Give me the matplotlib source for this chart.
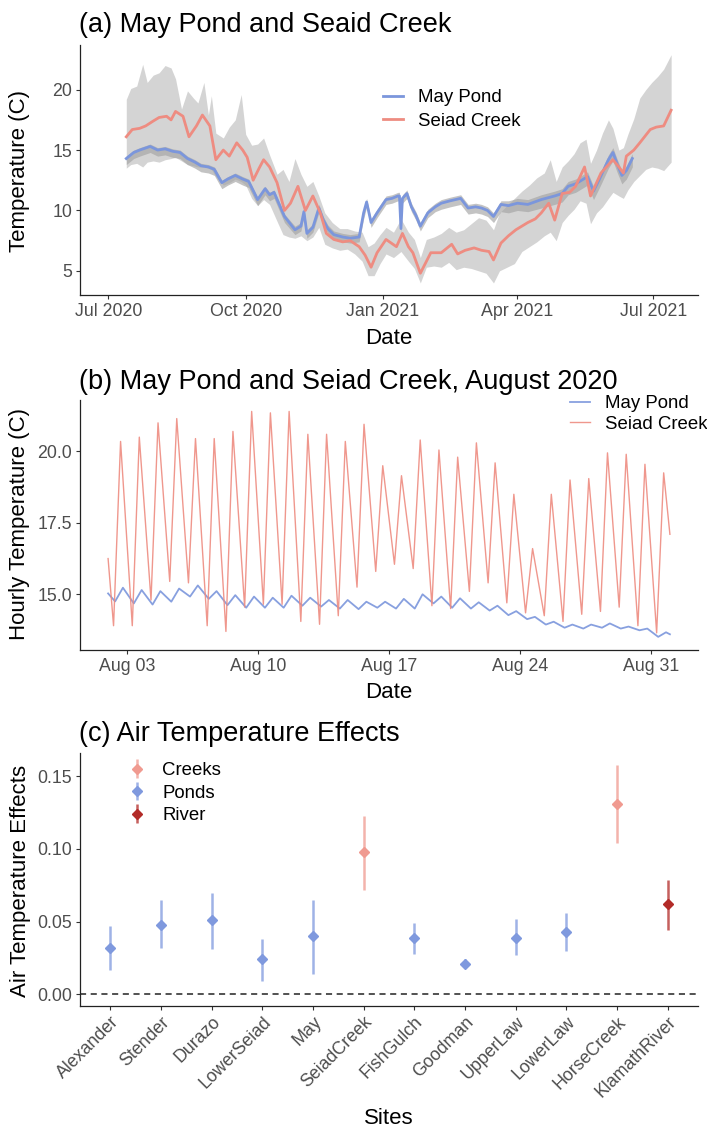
import matplotlib
matplotlib.use("Agg")
import matplotlib.pyplot as plt
import matplotlib.dates as mdates
import matplotlib.colors as mcolors
import numpy as np
import pandas as pd

plt.rcParams['font.family'] = ['Liberation Sans', 'DejaVu Sans']

# ---------------- (a) daily temperatures, Jul 2020 - Jul 2021 ----------------
may_dates = ["2020-07-13", "2020-07-18", "2020-07-22", "2020-07-29",
             "2020-08-03", "2020-08-08", "2020-08-13", "2020-08-18", "2020-08-23", "2020-08-28",
             "2020-09-01", "2020-09-06", "2020-09-10", "2020-09-15", "2020-09-19", "2020-09-24", "2020-09-29",
             "2020-10-03", "2020-10-09", "2020-10-14", "2020-10-17", "2020-10-20", "2020-10-27",
             "2020-11-03", "2020-11-07", "2020-11-09", "2020-11-11", "2020-11-15", "2020-11-19",
             "2020-11-22", "2020-11-25", "2020-11-29",
             "2020-12-05", "2020-12-10", "2020-12-16", "2020-12-19", "2020-12-21", "2020-12-24", "2020-12-28",
             "2021-01-03", "2021-01-07", "2021-01-11", "2021-01-12", "2021-01-13", "2021-01-14",
             "2021-01-17", "2021-01-20", "2021-01-23", "2021-01-26", "2021-01-31",
             "2021-02-05", "2021-02-09", "2021-02-15", "2021-02-22", "2021-02-27",
             "2021-03-04", "2021-03-08", "2021-03-12", "2021-03-16", "2021-03-21", "2021-03-26",
             "2021-04-01", "2021-04-08", "2021-04-17", "2021-04-26",
             "2021-05-01", "2021-05-05", "2021-05-10", "2021-05-14", "2021-05-18", "2021-05-22",
             "2021-05-26", "2021-05-29",
             "2021-06-01", "2021-06-04", "2021-06-07", "2021-06-10", "2021-06-13", "2021-06-17"]
may_mean = [14.3, 14.8, 15.0, 15.3,
            15.0, 15.1, 14.9, 14.8, 14.3, 14.0,
            13.7, 13.6, 13.4, 12.3, 12.6, 12.9, 12.6,
            12.4, 10.9, 11.8, 11.3, 11.5, 9.5,
            8.4, 8.7, 9.9, 8.1, 8.6, 10.2, 9.2, 8.5, 8.0,
            7.8, 7.7, 7.8, 9.8, 10.7, 9.0, 9.8,
            10.9, 11.0, 11.2, 11.2, 8.5, 11.0, 11.4, 10.3, 9.6, 8.7, 9.8,
            10.3, 10.6, 10.8, 11.0, 10.2,
            10.3, 10.2, 10.0, 9.5, 10.5, 10.4,
            10.6, 10.5, 10.9, 11.2,
            11.4, 12.0, 12.2, 12.5, 12.8, 11.6, 12.6, 13.4,
            14.2, 14.8, 13.8, 12.9, 13.3, 14.3]
may_lo = [13.8, 14.3, 14.5, 14.8,
          14.5, 14.6, 14.4, 14.3, 13.8, 13.5,
          13.2, 13.1, 12.9, 11.8, 12.1, 12.4, 12.1,
          11.9, 10.4, 11.3, 10.8, 11.0, 9.0,
          8.0, 8.3, 9.5, 7.7, 8.2, 9.8, 8.8, 8.1, 7.6,
          7.4, 7.3, 7.4, 9.3, 10.3, 8.6, 9.4,
          10.5, 10.6, 10.8, 10.8, 8.1, 10.6, 11.0, 9.9, 9.2, 8.3, 9.4,
          9.9, 10.1, 10.3, 10.5, 9.7,
          9.8, 9.7, 9.5, 9.0, 9.9, 9.8,
          10.0, 9.9, 10.2, 10.5,
          10.7, 11.3, 11.5, 11.8, 12.1, 10.9, 11.9, 12.7,
          13.5, 14.1, 13.1, 12.2, 12.6, 13.6]
may_hi = [14.5, 15.0, 15.2, 15.5,
          15.2, 15.3, 15.1, 15.0, 14.5, 14.2,
          13.9, 13.8, 13.6, 12.5, 12.8, 13.1, 12.8,
          12.6, 11.1, 12.0, 11.5, 11.7, 9.7,
          8.7, 9.0, 10.2, 8.4, 8.9, 10.5, 9.5, 8.8, 8.3,
          8.1, 8.0, 8.1, 10.1, 11.0, 9.3, 10.1,
          11.2, 11.3, 11.5, 11.5, 8.8, 11.3, 11.7, 10.6, 9.9, 9.0, 10.1,
          10.6, 10.9, 11.1, 11.3, 10.5,
          10.6, 10.5, 10.3, 9.8, 10.8, 10.8,
          11.0, 10.9, 11.3, 11.6,
          11.8, 12.4, 12.6, 12.9, 13.2, 12.0, 13.0, 13.8,
          14.6, 15.2, 14.2, 13.3, 13.7, 14.7]

seiad_dates = ["2020-07-13", "2020-07-17", "2020-07-22", "2020-07-26", "2020-07-31",
               "2020-08-04", "2020-08-09", "2020-08-12", "2020-08-15", "2020-08-20", "2020-08-24", "2020-08-29",
               "2020-09-02", "2020-09-07", "2020-09-11", "2020-09-16", "2020-09-20", "2020-09-25", "2020-09-29",
               "2020-10-02", "2020-10-06", "2020-10-10", "2020-10-13", "2020-10-17", "2020-10-22",
               "2020-10-27", "2020-10-31",
               "2020-11-05", "2020-11-10", "2020-11-15", "2020-11-20", "2020-11-24", "2020-11-29",
               "2020-12-05", "2020-12-10", "2020-12-16", "2020-12-20", "2020-12-24", "2020-12-28",
               "2021-01-03", "2021-01-10", "2021-01-14", "2021-01-18", "2021-01-21", "2021-01-26",
               "2021-02-02", "2021-02-09", "2021-02-16", "2021-02-20", "2021-02-25",
               "2021-03-03", "2021-03-08", "2021-03-13", "2021-03-16", "2021-03-21", "2021-03-26", "2021-03-31",
               "2021-04-08", "2021-04-13", "2021-04-17", "2021-04-22", "2021-04-26",
               "2021-05-01", "2021-05-06", "2021-05-10", "2021-05-16", "2021-05-20", "2021-05-27",
               "2021-06-04", "2021-06-08", "2021-06-11", "2021-06-13", "2021-06-18", "2021-06-22", "2021-06-29",
               "2021-07-03", "2021-07-08", "2021-07-13"]
seiad_mean = [16.1, 16.7, 16.8, 17.0, 17.4,
              17.7, 17.8, 17.5, 18.2, 17.8, 16.1, 17.0,
              17.9, 17.0, 14.2, 15.0, 14.5, 15.6, 15.0,
              14.4, 12.5, 13.5, 14.2, 13.6, 12.3, 10.0, 10.6,
              12.0, 10.0, 11.2, 9.8, 8.1, 7.6,
              7.4, 7.5, 7.0, 6.3, 5.3, 6.5,
              7.6, 7.0, 8.1, 7.0, 6.5, 4.8,
              6.5, 6.5, 7.2, 6.4, 6.7,
              6.9, 6.7, 6.6, 5.9, 7.3, 7.9, 8.4,
              9.0, 9.3, 9.8, 10.6, 9.2,
              11.4, 11.5, 12.0, 13.6, 11.2, 13.1,
              14.2, 13.6, 13.1, 14.5, 15.0, 15.6, 16.7,
              16.9, 17.0, 18.3]

# daily range of Seiad Creek (grey band)
rib_dates = ["2020-07-13", "2020-07-16", "2020-07-20", "2020-07-24", "2020-07-27", "2020-07-31",
             "2020-08-04", "2020-08-08", "2020-08-12", "2020-08-15", "2020-08-19", "2020-08-23",
             "2020-08-27", "2020-08-30",
             "2020-09-03", "2020-09-06", "2020-09-08", "2020-09-11", "2020-09-16", "2020-09-20",
             "2020-09-24", "2020-09-28",
             "2020-10-01", "2020-10-05", "2020-10-09", "2020-10-13", "2020-10-17", "2020-10-22",
             "2020-10-26", "2020-10-30",
             "2020-11-03", "2020-11-07", "2020-11-11", "2020-11-15", "2020-11-19", "2020-11-23", "2020-11-28",
             "2020-12-03", "2020-12-08", "2020-12-13", "2020-12-18", "2020-12-22", "2020-12-26", "2020-12-30",
             "2021-01-03", "2021-01-08", "2021-01-13", "2021-01-18", "2021-01-22", "2021-01-26", "2021-01-30",
             "2021-02-04", "2021-02-09", "2021-02-14", "2021-02-19", "2021-02-24",
             "2021-03-01", "2021-03-06", "2021-03-11", "2021-03-16", "2021-03-20", "2021-03-25", "2021-03-30",
             "2021-04-04", "2021-04-09", "2021-04-14", "2021-04-19", "2021-04-23", "2021-04-27",
             "2021-05-01", "2021-05-05", "2021-05-09", "2021-05-13", "2021-05-17", "2021-05-20",
             "2021-05-24", "2021-05-28",
             "2021-06-01", "2021-06-04", "2021-06-08", "2021-06-11", "2021-06-14", "2021-06-18",
             "2021-06-22", "2021-06-26", "2021-06-30",
             "2021-07-04", "2021-07-08", "2021-07-13"]
rib_lo = [13.5, 13.8, 13.9, 13.6, 14.0, 14.1,
          14.0, 14.2, 14.3, 14.4, 14.1, 13.8, 13.7, 13.6,
          13.6, 13.5, 13.4, 12.8, 12.1, 12.3, 12.6, 12.4,
          12.1, 11.0, 10.4, 10.9, 10.5, 9.1, 8.0, 7.8,
          7.7, 7.9, 7.5, 7.8, 8.6, 7.2, 6.9,
          6.7, 6.8, 6.4, 5.8, 4.6, 4.6, 5.6,
          6.4, 6.1, 6.6, 5.8, 5.2, 4.0, 5.3,
          5.4, 5.3, 5.7, 5.1, 5.3,
          5.2, 5.0, 4.8, 4.0, 5.0, 5.3, 5.6,
          6.6, 7.0, 7.4, 7.9, 8.2, 7.5,
          9.0, 9.6, 10.1, 10.8, 10.6, 8.9, 9.8, 10.3,
          11.0, 11.5, 11.2, 11.0, 11.7, 12.4, 12.9, 13.4, 13.6,
          13.5, 13.3, 14.0]
rib_hi = [19.2, 20.1, 20.3, 22.1, 20.6, 21.2,
          21.4, 22.0, 21.8, 20.9, 18.4, 19.9, 19.3, 18.9,
          20.6, 17.9, 19.5, 16.4, 16.0, 16.9, 17.5, 19.6,
          16.3, 15.4, 15.5, 16.0, 14.6, 13.0, 13.4, 12.4,
          14.3, 13.0, 12.0, 12.4, 11.2, 9.8, 9.0,
          8.5, 8.5, 8.3, 8.2, 7.0, 7.3, 8.0,
          8.6, 8.2, 9.3, 8.2, 7.6, 6.1, 7.6,
          7.8, 8.1, 8.6, 8.2, 8.4,
          8.9, 9.4, 9.2, 8.4, 9.8, 10.4, 11.0,
          11.6, 12.1, 12.7, 13.1, 14.2, 12.4,
          13.6, 14.1, 14.7, 15.6, 15.9, 13.9, 15.0, 16.4,
          17.5, 16.8, 15.0, 15.2, 16.3, 17.6, 19.3, 20.0, 20.6,
          21.1, 21.7, 22.9]

# ---------------- (b) hourly temperatures, August 2020 ----------------
aug_days = pd.date_range("2020-08-02", "2020-08-31", freq="D")
seiad_trough = [13.9, 13.9, 14.8, 15.45, 15.4, 13.9, 13.7, 14.55, 14.65, 14.65,
                14.05, 13.95, 14.25, 15.25, 15.8, 16.05, 15.9, 14.6, 14.5, 15.1,
                15.4, 14.7, 14.35, 14.25, 14.05, 14.3, 14.4, 14.55, 13.9, 13.65]
seiad_peak = [20.35, 20.5, 21.0, 21.15, 20.45, 20.45, 20.7, 21.4, 21.35, 21.4,
              20.6, 20.6, 20.35, 20.95, 19.5, 19.15, 20.4, 20.05, 19.8, 20.3,
              19.6, 18.5, 16.6, 18.5, 19.0, 19.05, 19.95, 19.9, 19.55, 19.25]
may_trough = [14.75, 14.68, 14.64, 14.74, 14.92, 14.84, 14.62, 14.53, 14.53, 14.53,
              14.6, 14.57, 14.5, 14.48, 14.53, 14.5, 14.5, 14.68, 14.53, 14.5,
              14.43, 14.27, 14.13, 13.94, 13.83, 13.8, 13.83, 13.8, 13.74, 13.51]
may_peak = [15.23, 15.15, 15.11, 15.2, 15.31, 15.11, 14.97, 14.92, 14.88, 14.95,
            14.88, 14.8, 14.8, 14.74, 14.74, 14.84, 15.0, 14.92, 14.86, 14.72,
            14.6, 14.41, 14.21, 14.04, 13.94, 13.94, 13.98, 13.87, 13.8, 13.67]
seiad_first, seiad_last = 16.25, 17.1
may_first, may_last = 15.03, 13.6
SEIAD_HOURS = (7, 16)   # usual hour of daily min / max in the creek
MAY_HOURS = (9, 19)     # the pond lags behind

# ---------------- (c) air temperature effects ----------------
sites = ["Alexander", "Stender", "Durazo", "LowerSeiad", "May", "SeiadCreek",
         "FishGulch", "Goodman", "UpperLaw", "LowerLaw", "HorseCreek", "KlamathRiver"]
site_type = ["Ponds", "Ponds", "Ponds", "Ponds", "Ponds", "Creeks",
             "Ponds", "Ponds", "Ponds", "Ponds", "Creeks", "River"]
effect = [0.032, 0.048, 0.051, 0.024, 0.040, 0.098, 0.039, 0.021, 0.039, 0.043, 0.131, 0.062]
eff_lo = [0.017, 0.032, 0.031, 0.009, 0.014, 0.072, 0.028, 0.018, 0.027, 0.030, 0.104, 0.044]
eff_hi = [0.047, 0.065, 0.070, 0.038, 0.065, 0.123, 0.049, 0.024, 0.052, 0.056, 0.158, 0.079]

MAY_COL = "#7b96dc"
SEIAD_COL = "#ee8c81"
TYPE_COL = {"Creeks": "#f09a90", "Ponds": "#7f99de", "River": "#b22b28"}

W, H = 707, 1131
fig = plt.figure(figsize=(W / 100, H / 100), dpi=100)


def box(l, t, r, b):
    return [l / W, 1 - b / H, (r - l) / W, (b - t) / H]


def classic(ax):
    for s in ["top", "right"]:
        ax.spines[s].set_visible(False)
    for s in ["left", "bottom"]:
        ax.spines[s].set_color("#222222")
        ax.spines[s].set_linewidth(0.9)
    ax.tick_params(colors="#333333", labelcolor="#4d4d4d", labelsize=12.8,
                   length=3, width=0.8, pad=2.5)


def ftext(x, y, s, **kw):
    fig.text(x / W, 1 - y / H, s, **kw)


def hourly(days, lo, hi, hours, first, last):
    t = [days[0]]
    v = [first]
    for d, a, b in zip(days, lo, hi):
        t += [d + pd.Timedelta(hours=hours[0]), d + pd.Timedelta(hours=hours[1])]
        v += [a, b]
    t.append(days[-1] + pd.Timedelta(days=1))
    v.append(last)
    return t, v


# (a)
ax1 = fig.add_axes(box(80, 45, 698, 295))
classic(ax1)
ax1.fill_between(pd.to_datetime(rib_dates), rib_lo, rib_hi, color="#d4d4d4", lw=0)
ax1.fill_between(pd.to_datetime(may_dates), may_lo, may_hi, color="#a3a3a3", alpha=0.65, lw=0)
ax1.plot(pd.to_datetime(may_dates), may_mean, color=MAY_COL, lw=2.0, label="May Pond")
ax1.plot(pd.to_datetime(seiad_dates), seiad_mean, color=SEIAD_COL, lw=2.0, label="Seiad Creek")
ax1.set_xlim(pd.Timestamp("2020-06-12"), pd.Timestamp("2021-07-31"))
ax1.set_ylim(3.0, 23.7)
ax1.set_yticks([5, 10, 15, 20])
ax1.set_xticks(pd.to_datetime(["2020-07-01", "2020-10-01", "2021-01-01", "2021-04-01", "2021-07-01"]))
ax1.xaxis.set_major_formatter(mdates.DateFormatter("%b %Y"))
ax1.legend(loc="upper left", bbox_to_anchor=(383 / W, 1 - 89 / H), bbox_transform=fig.transFigure,
           frameon=False, fontsize=13.4, handlelength=1.1, handletextpad=0.8,
           labelspacing=0.35, borderpad=0, borderaxespad=0)
ftext(79, 32, "(a) May Pond and Seaid Creek", fontsize=19.5, va="baseline")
ftext(20, 171, "Temperature (C)", fontsize=16, rotation=90, ha="center", va="center")
ftext(389, 338, "Date", fontsize=16, ha="center", va="center")

# (b)
ax2 = fig.add_axes(box(80, 400, 698, 650))
classic(ax2)
t_may, v_may = hourly(aug_days, may_trough, may_peak, MAY_HOURS, may_first, may_last)
t_sei, v_sei = hourly(aug_days, seiad_trough, seiad_peak, SEIAD_HOURS, seiad_first, seiad_last)
ax2.plot(t_may, v_may, color=MAY_COL, lw=1.3, alpha=0.9, label="May Pond")
ax2.plot(t_sei, v_sei, color=SEIAD_COL, lw=1.0, alpha=0.9, label="Seiad Creek")
ax2.set_xlim(pd.Timestamp("2020-07-31 12:00"), pd.Timestamp("2020-09-02 12:00"))
ax2.set_ylim(13.05, 21.8)
ax2.set_yticks([15.0, 17.5, 20.0])
ax2.yaxis.set_major_formatter(plt.FormatStrFormatter("%.1f"))
ax2.set_xticks(pd.to_datetime(["2020-08-03", "2020-08-10", "2020-08-17", "2020-08-24", "2020-08-31"]))
ax2.xaxis.set_major_formatter(mdates.DateFormatter("%b %d"))
ax2.legend(loc="upper left", bbox_to_anchor=(570 / W, 1 - 395 / H), bbox_transform=fig.transFigure,
           frameon=False, fontsize=13.4, handlelength=1.1, handletextpad=0.8,
           labelspacing=0.2, borderpad=0, borderaxespad=0)
ftext(79, 389, "(b) May Pond and Seiad Creek, August 2020", fontsize=19.5, va="baseline")
ftext(20, 524, "Hourly Temperature (C)", fontsize=16, rotation=90, ha="center", va="center")
ftext(389, 692, "Date", fontsize=16, ha="center", va="center")

# (c)
ax3 = fig.add_axes(box(80, 753, 698, 1006))
classic(ax3)
ax3.axhline(0, color="#222222", lw=1.1, ls=(0, (4, 3)), zorder=1)
xpos = np.arange(len(sites))
eff = np.array(effect)
lo = np.array(eff_lo)
hi = np.array(eff_hi)
for grp in ["Creeks", "Ponds", "River"]:
    idx = np.array([t == grp for t in site_type])
    col = TYPE_COL[grp]
    ax3.errorbar(xpos[idx], eff[idx], yerr=[eff[idx] - lo[idx], hi[idx] - eff[idx]],
                 fmt="D", ms=5, color=col, ecolor=mcolors.to_rgba(col, 0.75),
                 elinewidth=1.8, capsize=0, label=grp, zorder=3)
ax3.set_xlim(-0.6, len(sites) - 0.4)
ax3.set_ylim(-0.008, 0.166)
ax3.set_yticks([0.0, 0.05, 0.10, 0.15])
ax3.yaxis.set_major_formatter(plt.FormatStrFormatter("%.2f"))
ax3.set_xticks(xpos)
ax3.set_xticklabels(sites, rotation=45, ha="right", rotation_mode="anchor")
ax3.legend(loc="upper left", bbox_to_anchor=(127 / W, 1 - 762 / H), bbox_transform=fig.transFigure,
           frameon=False, fontsize=13.4, handlelength=1.1, handletextpad=0.8,
           labelspacing=0.3, borderpad=0, borderaxespad=0)
ftext(79, 741, "(c) Air Temperature Effects", fontsize=19.5, va="baseline")
ftext(21, 881, "Air Temperature Effects", fontsize=16, rotation=90, ha="center", va="center")
ftext(389, 1118, "Sites", fontsize=16, ha="center", va="center")

fig.savefig("out.png", dpi=100)
